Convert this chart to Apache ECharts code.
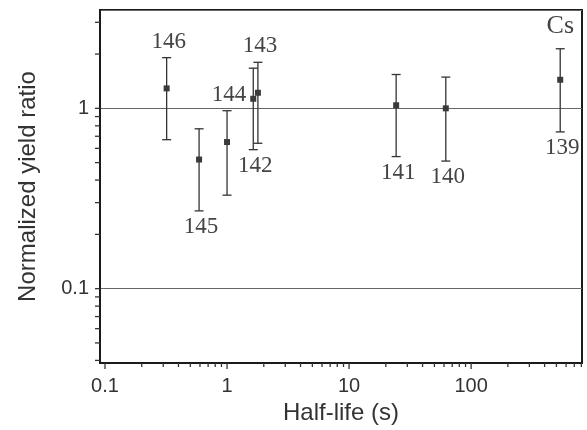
<!DOCTYPE html>
<html>
<head>
<meta charset="utf-8">
<script src="https://cdn.jsdelivr.net/npm/echarts@6/dist/echarts.min.js"></script>
<style>
	html, body { margin: 0; padding: 0; background: #fff; }
	#chart { width: 587px; height: 430px; }
</style>
</head>
<body>
<div id="chart"></div>
<script>
// isotope mass numbers, half-lives (s), yield ratio and error bar half-width
var isotopes = ["146", "145", "144", "143", "142", "141", "140", "139"];
var halfLife = [0.32, 0.59, 1.0, 1.79, 1.64, 24.3, 62, 537];
var yieldRatio = [1.29, 0.52, 0.65, 1.22, 1.13, 1.04, 1.00, 1.44];
var yieldError = [0.62, 0.25, 0.32, 0.58, 0.54, 0.50, 0.49, 0.70];
var labelAbove = [true, false, true, true, false, false, false, false];

var xTickLabels = ["0.1", "1", "10", "100"];
var yTickLabels = ["0.1", "1"];

var X_MIN = 0.091, X_MAX = 810;
var Y_MIN = 0.0387, Y_MAX = 3.51;
var INK = "#333";

function isDecade(v) {
	var l = Math.log(v) / Math.LN10;
	return Math.abs(l - Math.round(l)) < 1e-6;
}

function decadeLabel(v, list) {
	if (!isDecade(v)) return "";
	for (var i = 0; i < list.length; i++) {
		if (Math.abs(parseFloat(list[i]) - v) < 1e-9) return list[i];
	}
	return "";
}

// tick positions 1..9 x 10^k inside the axis range
function logTicks(min, max) {
	var out = [];
	for (var k = -3; k <= 4; k++) {
		for (var m = 1; m <= 9; m++) {
			var v = m * Math.pow(10, k);
			if (v >= min && v <= max) out.push([v, m === 1]);
		}
	}
	return out;
}

var xTicks = logTicks(X_MIN, X_MAX).map(function (t) {
	return [t[0], Y_MIN, t[1] ? 6 : 4];
});
var yTicks = logTicks(Y_MIN, Y_MAX).map(function (t) {
	return [X_MIN, t[0], 5];
});

var points = isotopes.map(function (name, i) {
	return [halfLife[i], yieldRatio[i], yieldError[i], i];
});

function renderErrorBar(params, api) {
	var x = api.value(0), y = api.value(1), e = api.value(2), i = api.value(3);
	var top = api.coord([x, y + e]);
	var bot = api.coord([x, y - e]);
	var mid = api.coord([x, y]);
	var cap = 4.5, s = 3;
	var ly = labelAbove[i] ? top[1] - 16 : bot[1] + 16;
	return {
		type: "group",
		children: [
			{ type: "line", shape: { x1: top[0], y1: top[1], x2: bot[0], y2: bot[1] }, style: { stroke: INK, lineWidth: 1.3 } },
			{ type: "line", shape: { x1: top[0] - cap, y1: top[1], x2: top[0] + cap, y2: top[1] }, style: { stroke: INK, lineWidth: 1.3 } },
			{ type: "line", shape: { x1: bot[0] - cap, y1: bot[1], x2: bot[0] + cap, y2: bot[1] }, style: { stroke: INK, lineWidth: 1.3 } },
			{ type: "rect", shape: { x: mid[0] - s, y: mid[1] - s, width: 2 * s, height: 2 * s }, style: { fill: "#3a3a3a" } },
			{ type: "text", style: { text: isotopes[i], x: mid[0] + 2, y: ly, align: "center", verticalAlign: "middle", font: '23px "Liberation Serif"', fill: "#444" } }
		]
	};
}

function renderXTick(params, api) {
	var p = api.coord([api.value(0), api.value(1)]);
	return { type: "line", shape: { x1: p[0], y1: p[1], x2: p[0], y2: p[1] + api.value(2) }, style: { stroke: INK, lineWidth: 1.3 } };
}

function renderYTick(params, api) {
	var p = api.coord([api.value(0), api.value(1)]);
	return { type: "line", shape: { x1: p[0], y1: p[1], x2: p[0] - api.value(2), y2: p[1] }, style: { stroke: INK, lineWidth: 1.3 } };
}

var chart = echarts.init(document.getElementById("chart"));
chart.setOption({
	animation: false,
	backgroundColor: "#fff",
	grid: {
		left: 100,
		top: 10,
		right: 5,
		bottom: 67,
		show: true,
		borderColor: "#1a1a1a",
		borderWidth: 2
	},
	xAxis: {
		type: "log",
		logBase: 10,
		min: X_MIN,
		max: X_MAX,
		name: "Half-life (s)",
		nameLocation: "middle",
		nameGap: 32,
		nameTextStyle: { fontFamily: "Liberation Sans", fontSize: 24, color: INK },
		axisLine: { show: true, lineStyle: { color: "#1a1a1a", width: 2 } },
		axisTick: { show: false },
		splitLine: { show: false },
		axisLabel: {
			margin: 13,
			fontFamily: "Liberation Sans",
			fontSize: 20,
			color: INK,
			formatter: function (v) { return decadeLabel(v, xTickLabels); }
		}
	},
	yAxis: {
		type: "log",
		logBase: 10,
		min: Y_MIN,
		max: Y_MAX,
		name: "Normalized yield ratio",
		nameLocation: "middle",
		nameGap: 60,
		nameTextStyle: { fontFamily: "Liberation Sans", fontSize: 24, color: INK },
		axisLine: { show: true, lineStyle: { color: "#1a1a1a", width: 2 } },
		axisTick: { show: false },
		splitLine: { show: true, lineStyle: { color: "#666", width: 1 } },
		axisLabel: {
			margin: 11,
			fontFamily: "Liberation Sans",
			fontSize: 20,
			color: INK,
			formatter: function (v) { return decadeLabel(v, yTickLabels); }
		}
	},
	graphic: [
		{ type: "text", right: 13, top: 13, style: { text: "Cs", font: '26px "Liberation Serif"', fill: "#444" } }
	],
	series: [
		{ type: "custom", renderItem: renderErrorBar, data: points, encode: { x: 0, y: 1 }, silent: true, z: 5 },
		{ type: "custom", renderItem: renderXTick, data: xTicks, encode: { x: 0, y: 1 }, silent: true },
		{ type: "custom", renderItem: renderYTick, data: yTicks, encode: { x: 0, y: 1 }, silent: true }
	]
});
</script>
</body>
</html>
